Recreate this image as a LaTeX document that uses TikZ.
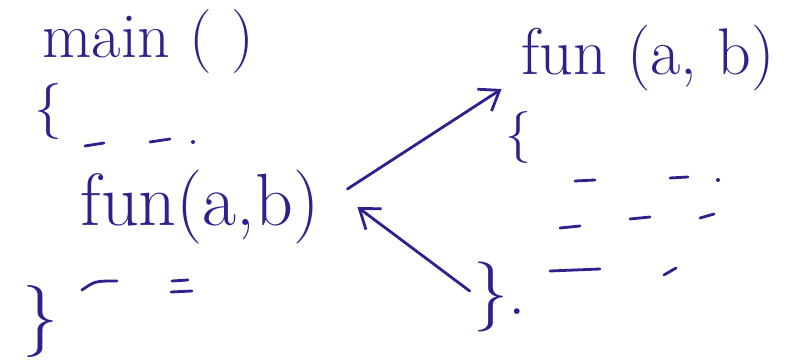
\documentclass[tikz,border=0pt]{standalone}
\usepackage{tikz}
\usepackage{xcolor}
\usetikzlibrary{arrows.meta}
\definecolor{ink}{RGB}{48,32,140}

\begin{document}
\begin{tikzpicture}[x=0.5pt,y=-0.5pt,color=ink,line width=1.4pt,line cap=round,
  >={Straight Barb[length=9pt,width=13pt]}]
  \useasboundingbox (0,0) rectangle (798,362);
  % caller
  \node[font=\fontsize{32}{34}\selectfont] (mainhd) at (148,42) {main ( )};
  \node[font=\fontsize{28}{30}\selectfont] (lopen) at (48,112) {\{};
  \node[font=\fontsize{37}{40}\selectfont] (lcall) at (200,207) {fun(a,b)};
  \node[font=\fontsize{36}{38}\selectfont] (lclose) at (40,322) {\}};
  % callee
  \node[font=\fontsize{33}{35}\selectfont] (rfun) at (648,58) {fun (a, b)};
  \node[font=\fontsize{26}{28}\selectfont] (ropen) at (518,138) {\{};
  \node[font=\fontsize{35}{37}\selectfont] (rend) at (500,297) {\}.};
  % code lines
  \foreach \xa/\ya/\xb/\yb in {85/146/104/143,150/142/170/139,172/281/188/280,171/292/192/291,
    575/181/595/180,670/178/688/177,560/228/580/226,630/219/650/217,700/218/714/214,
    550/271/600/269,664/275/676/268}
    \draw (\xa,\ya) -- (\xb,\yb);
  \draw (82,290) .. controls (95,281) .. (117,281);
  \foreach \x/\y in {193/142,718/180} \fill (\x,\y) circle (1pt);
  % call and return
  \draw[->] ([xshift=10pt,yshift=9pt]lcall.east) -- ([xshift=-6pt,yshift=5pt]rfun.south west);
  \draw[->] ([xshift=2pt,yshift=3pt]rend.west) -- ([xshift=15pt]lcall.east);
\end{tikzpicture}
\end{document}
